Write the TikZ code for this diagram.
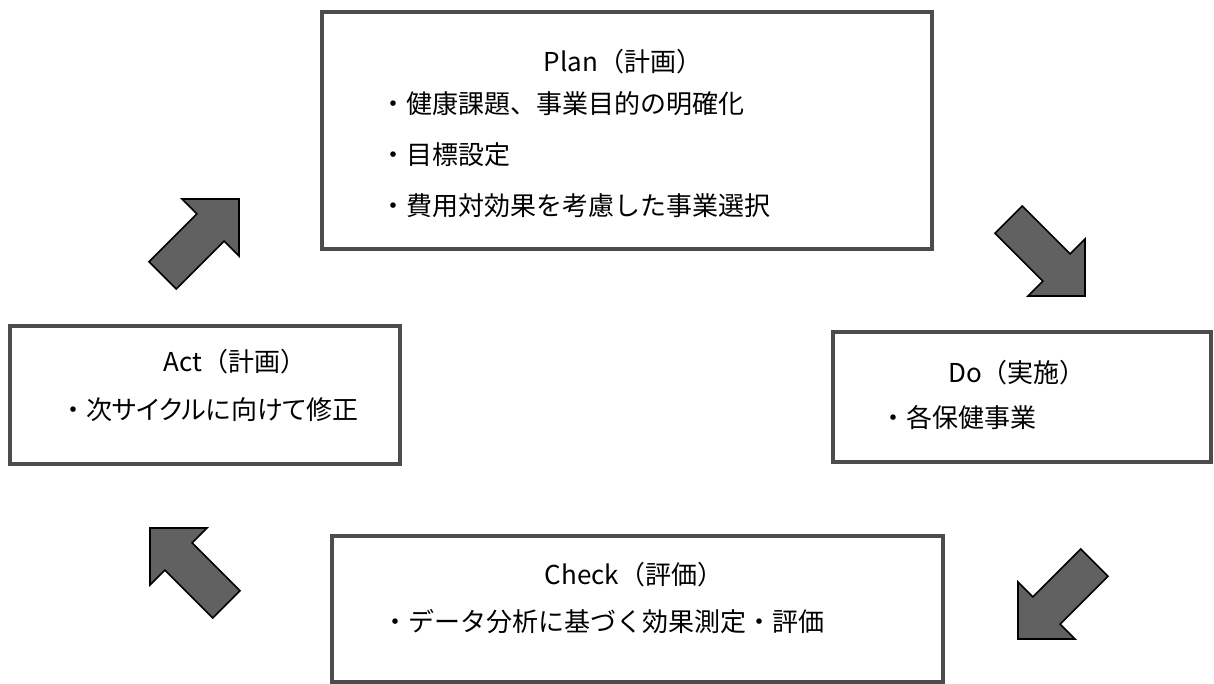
\documentclass[tikz,border=0pt]{standalone}
\usepackage{fontspec}
\setmainfont{Noto Sans CJK JP}
\newfontfamily\propfont{Noto Sans CJK JP}[RawFeature=+palt]
\usetikzlibrary{shapes.arrows}
\begin{document}
\begin{tikzpicture}[x=0.5pt,y=-0.5pt,
  frame/.style={draw=black!70, line width=2.2pt, fill=white, rectangle, inner sep=0pt},
  txt/.style={font=\fontsize{13pt}{15pt}\selectfont, inner sep=0pt, text=black},
  blockarrow/.style={single arrow, draw=black, line width=0.8pt, fill=black!62,
    minimum height=54pt, inner xsep=0pt, inner ysep=9.25pt,
    single arrow head extend=10.5pt,
    single arrow tip angle=90, single arrow head indent=0pt}]
\useasboundingbox[fill=white] (0,0) rectangle (1214,684);

% boxes
\node[frame, minimum width=305pt, minimum height=118.5pt] (plan) at (627,130.5) {};
\node[frame, minimum width=195pt, minimum height=69pt] (act) at (205,395) {};
\node[frame, minimum width=189pt, minimum height=65pt] (do) at (1022,397) {};
\node[frame, minimum width=305.5pt, minimum height=73pt] (check) at (637.5,609) {};

% texts
\node[txt] (plant) at (623,62) {Plan（計画）};
\node[txt, anchor=west] (plan1) at (380,104) {・健康課題、事業目的の明確化};
\node[txt, anchor=west] (plan2) at (380,155) {・目標設定};
\node[txt, anchor=west] (plan3) at (380,206) {・費用対効果を考慮した事業選択};

\node[txt] (actt) at (235,362) {Act（計画）};
\node[txt, anchor=west] (act1) at (60,410) {・{\propfont 次サイクルに向けて修正}};

\node[txt] (dot) at (1017,373) {Do（実施）};
\node[txt, anchor=west] (do1) at (880,418) {・各保健事業};

\node[txt] (checkt) at (634,575) {Check（評価）};
\node[txt, anchor=west] (check1) at (382,622) {・データ分析に基づく効果測定・評価};

% arrows
\node[blockarrow, rotate=45] (a1) at (194,244) {};
\node[blockarrow, rotate=-45] (a2) at (1040,251) {};
\node[blockarrow, rotate=-135] (a3) at (1063,594) {};
\node[blockarrow, rotate=135] (a4) at (195,573) {};
\end{tikzpicture}
\end{document}
